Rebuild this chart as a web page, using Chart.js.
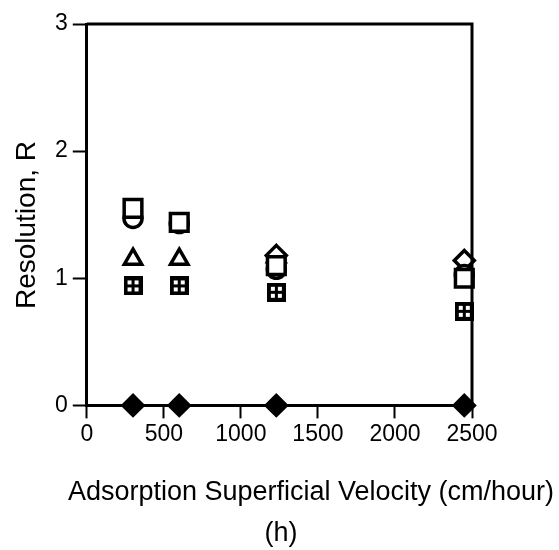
<!DOCTYPE html>
<html>
<head>
<meta charset="utf-8">
<script src="https://cdn.jsdelivr.net/npm/chart.js@4.4.0/dist/chart.umd.min.js"></script>
<style>
  html, body { margin: 0; padding: 0; background: #fff; }
  #wrap { width: 559px; height: 550px; position: relative; }
</style>
</head>
<body>
<div id="wrap"><canvas id="resChart" width="559" height="550"></canvas></div>
<script>
  // superficial velocity (cm/hour)
  var velocities = [300, 600, 1230, 2450];
  // resolution values
  var squareVals  = [1.55, 1.44, 1.10, 1.00];
  var circleVals  = [1.47, 1.43, 1.07, 1.03];
  var triangleVals = [1.15, 1.15, 1.17, null];
  var diamondVals = [null, null, 1.18, 1.14];
  var gridVals    = [0.94, 0.94, 0.89, 0.74];
  var filledVals  = [0, 0, 0, 0];
  var xTicks = [0, 500, 1000, 1500, 2000, 2500];
  var yTicks = [0, 1, 2, 3];

  function pts(vals) {
    var out = [];
    for (var i = 0; i < velocities.length; i++) {
      if (vals[i] !== null) out.push({x: velocities[i], y: vals[i]});
    }
    return out;
  }

  // boxed-plus marker
  function gridMarker() {
    var c = document.createElement('canvas');
    c.width = 19; c.height = 19;
    var g = c.getContext('2d');
    g.fillStyle = '#000';
    g.fillRect(0, 0, 19, 19);
    g.fillStyle = '#fff';
    g.fillRect(4, 4, 4, 4);
    g.fillRect(11, 4, 4, 4);
    g.fillRect(4, 11, 4, 4);
    g.fillRect(11, 11, 4, 4);
    return c;
  }

  var font = '"Liberation Sans", Arial, sans-serif';

  // frame + axis titles
  var frame = {
    id: 'frame',
    afterDraw: function(chart) {
      var ctx = chart.ctx, a = chart.chartArea;
      ctx.save();
      ctx.strokeStyle = '#000';
      ctx.lineWidth = 3;
      ctx.beginPath();
      ctx.moveTo(a.left, a.top);
      ctx.lineTo(a.right, a.top);
      ctx.lineTo(a.right, a.bottom);
      ctx.stroke();
      ctx.fillStyle = '#000';
      ctx.font = '27px ' + font;
      ctx.textAlign = 'center';
      ctx.textBaseline = 'alphabetic';
      ctx.fillText('Adsorption Superficial Velocity (cm/hour)', 311, 500);
      ctx.fillText('(h)', 281, 541);
      ctx.translate(35, 225);
      ctx.rotate(-Math.PI / 2);
      ctx.font = '28px ' + font;
      ctx.fillText('Resolution, R', 0, 0);
      ctx.restore();
    }
  };

  var base = {
    showLine: false,
    borderColor: '#000',
    backgroundColor: '#fff',
    borderWidth: 3.5,
    clip: false
  };

  function ds(label, vals, style, radius, extra) {
    var d = Object.assign({}, base, {
      label: label,
      data: pts(vals),
      pointStyle: style,
      pointRadius: radius,
      pointHoverRadius: radius
    });
    return Object.assign(d, extra || {});
  }

  // dataset 0 is painted last (on top)
  var ctx = document.getElementById('resChart').getContext('2d');
  new Chart(ctx, {
    type: 'scatter',
    data: {
      datasets: [
        ds('filled', filledVals, 'rectRot', 10, {backgroundColor: '#000'}),
        ds('grid', gridVals, gridMarker(), 10),
        ds('square', squareVals, 'rect', 12.5),
        ds('circle', circleVals, 'circle', 9),
        ds('diamond', diamondVals, 'rectRot', 10),
        ds('triangle', triangleVals, 'triangle', 10)
      ]
    },
    options: {
      responsive: false,
      animation: false,
      layout: { padding: { left: 50, right: 87, top: 24, bottom: 100 } },
      plugins: { legend: { display: false }, tooltip: { enabled: false } },
      scales: {
        x: {
          type: 'linear', min: 0, max: 2500,
          afterBuildTicks: function(s) { s.ticks = xTicks.map(function(v) { return {value: v}; }); },
          ticks: { color: '#000', font: { size: 23, family: font }, padding: 2, maxRotation: 0,
                   callback: function(v) { return String(v); } },
          grid: { drawOnChartArea: false, color: '#000', tickLength: 13, tickWidth: 2 },
          border: { color: '#000', width: 3 }
        },
        y: {
          type: 'linear', min: 0, max: 3,
          afterBuildTicks: function(s) { s.ticks = yTicks.map(function(v) { return {value: v}; }); },
          ticks: { color: '#000', font: { size: 23, family: font }, padding: 5,
                   callback: function(v) { return String(v); } },
          grid: { drawOnChartArea: false, color: '#000', tickLength: 14, tickWidth: 2 },
          border: { color: '#000', width: 3 }
        }
      }
    },
    plugins: [frame]
  });
</script>
</body>
</html>
